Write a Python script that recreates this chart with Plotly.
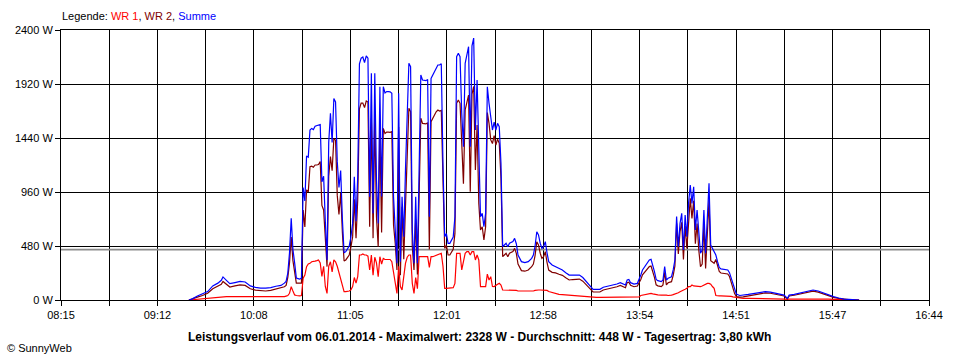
import plotly.graph_objects as go
from datetime import datetime

# ---------------- data ----------------
times = ["09:30","09:32","09:35","09:38","09:41","09:44","09:47","09:49","09:50","09:52",
         "09:54","09:57","10:00","10:03","10:06","10:09","10:12","10:15","10:18","10:21",
         "10:24","10:26","10:27","10:28","10:29","10:30","10:31","10:32","10:33","10:34",
         "10:35","10:36","10:37","10:38","10:39","10:40","10:41","10:42","10:43","10:44",
         "10:45","10:46","10:47","10:48","10:49","10:50","10:51","10:52","10:53","10:54",
         "10:55","10:56","10:57","10:58","10:59","11:00","11:01","11:02","11:03","11:04",
         "11:05","11:06","11:07","11:08","11:09","11:10","11:11","11:12","11:13","11:14",
         "11:15","11:16","11:17","11:18","11:19","11:20","11:21","11:22","11:23","11:24",
         "11:25","11:26","11:27","11:28","11:29","11:30","11:31","11:32","11:33","11:34",
         "11:35","11:36","11:37","11:38","11:39","11:40","11:41","11:42","11:43","11:44",
         "11:45","11:46","11:47","11:48","11:49","11:50","11:51","11:52","11:53","11:54",
         "11:55","11:56","11:57","11:58","11:59","12:00","12:01","12:02","12:03","12:04",
         "12:05","12:06","12:07","12:08","12:09","12:10","12:11","12:12","12:13","12:14",
         "12:15","12:16","12:17","12:18","12:19","12:20","12:21","12:22","12:23","12:24",
         "12:25","12:26","12:27","12:28","12:29","12:30","12:31","12:32","12:33","12:34",
         "12:35","12:36","12:37","12:38","12:40","12:41","12:42","12:43","12:45","12:47",
         "12:49","12:51","12:52","12:53","12:54","12:55","12:56","12:57","12:58","12:59",
         "13:00","13:01","13:03","13:05","13:07","13:09","13:11","13:13","13:15","13:17",
         "13:19","13:21","13:23","13:25","13:27","13:29","13:31","13:33","13:35","13:37",
         "13:39","13:41","13:43","13:45","13:46","13:47","13:48","13:49","13:51","13:53",
         "13:54","13:55","13:56","13:57","13:59","14:00","14:01","14:02","14:03","14:04",
         "14:05","14:07","14:08","14:09","14:10","14:11","14:12","14:13","14:14","14:15",
         "14:16","14:17","14:18","14:19","14:20","14:21","14:22","14:23","14:24","14:25",
         "14:26","14:27","14:28","14:29","14:30","14:31","14:32","14:33","14:34","14:35",
         "14:36","14:37","14:38","14:39","14:40","14:41","14:42","14:44","14:46","14:47",
         "14:48","14:49","14:50","14:51","14:53","14:55","14:58","15:00","15:03","15:05",
         "15:08","15:11","15:14","15:17","15:19","15:21","15:22","15:25","15:28","15:31",
         "15:34","15:36","15:39","15:42","15:45","15:48","15:51","15:54","15:57","16:00",
         "16:03"]

wr1 = [0,3,8,12,15,18,25,30,30,30,
       30,30,30,28,25,25,25,25,25,28,
       28,30,35,40,60,118,80,45,40,36,
       36,40,193,222,296,320,326,340,340,345,
       350,356,330,210,300,120,59,300,340,250,
       356,340,300,240,200,120,74,74,74,80,
       90,120,200,150,207,400,400,410,400,400,
       390,267,400,220,380,330,207,385,320,370,
       360,360,360,360,340,250,120,59,300,120,
       90,200,326,380,400,400,148,59,200,100,
       385,385,385,385,385,385,290,385,385,390,
       395,400,409,415,300,104,104,104,104,104,
       110,148,415,415,415,267,330,415,430,430,
       400,430,430,356,400,356,119,119,119,119,
       230,178,207,120,119,133,140,148,133,89,
       89,89,89,89,89,89,85,80,80,76,
       74,74,80,85,89,89,89,89,89,89,
       85,75,65,55,50,48,45,44,40,38,
       36,33,30,26,24,24,24,24,24,24,
       24,24,24,24,24,24,24,24,24,24,
       28,40,44,48,55,59,59,55,50,48,
       46,44,44,50,44,40,40,44,48,52,
       60,65,74,80,84,96,104,119,119,133,
       125,122,120,118,119,124,133,135,148,148,
       140,120,104,40,36,36,36,36,36,34,
       32,28,26,22,15,15,14,14,13,12,
       11,10,9,8,8,5,8,8,9,10,
       10,11,10,9,8,6,4,2,1,1,
       0]

wr2 = [0,8,25,40,60,100,120,140,165,140,
       115,125,135,130,100,88,82,80,85,95,
       105,118,130,200,330,560,350,260,150,150,
       148,150,800,650,980,960,1185,1190,1180,1200,
       1200,1204,1230,840,800,580,297,1100,1274,1150,
       1434,1420,930,760,950,600,346,356,376,400,
       470,561,896,550,889,1700,1750,1750,1710,1769,
       1760,651,1615,550,1635,737,474,1511,600,1526,
       1480,1492,1492,1490,1497,668,502,267,1537,220,
       828,363,830,1279,1704,1674,474,267,718,226,
       830,1615,1570,1570,1565,1575,450,1585,1615,1640,
       1673,1689,1680,1685,900,459,486,400,400,426,
       450,592,1748,1778,1748,1392,1033,1689,1763,1822,
       963,1830,1898,1155,1556,859,622,651,533,651,
       1666,1570,1423,1391,1461,1378,1430,1393,1082,385,
       400,415,385,415,430,459,415,320,261,256,
       267,296,320,395,518,489,416,370,385,430,
       335,266,246,241,229,219,198,178,182,184,
       186,167,133,98,71,71,71,89,95,100,
       109,118,130,118,109,154,159,130,118,124,
       150,182,223,242,271,297,302,256,202,135,
       126,119,134,246,134,153,160,163,219,303,
       681,409,607,690,360,660,459,740,903,726,
       882,500,680,445,296,320,667,280,622,889,
       349,339,326,360,305,254,240,236,231,209,
       161,105,57,31,25,27,36,41,49,58,
       63,60,53,42,36,10,36,42,51,64,
       70,78,70,53,37,24,14,6,4,2,
       0]

summe = [0,10,35,55,75,125,150,175,205,175,
         145,155,165,160,125,112,105,105,110,122,
         130,150,165,240,420,726,450,330,195,190,
         185,195,1000,880,1280,1270,1510,1525,1515,1545,
         1550,1560,1560,1050,1100,700,356,1400,1660,1400,
         1790,1760,1230,1000,1150,720,420,430,450,480,
         560,681,1096,700,1096,2100,2150,2160,2110,2169,
         2150,918,2015,770,2015,1067,681,1896,920,1896,
         1840,1852,1852,1850,1837,918,622,326,1837,340,
         918,563,1156,1659,2104,2074,622,326,918,326,
         1215,2000,1955,1955,1950,1960,740,1970,2000,2030,
         2068,2089,2089,2100,1200,563,590,504,504,530,
         560,740,2163,2193,2163,1659,1363,2104,2193,2252,
         1363,2260,2328,1511,1956,1215,741,770,652,770,
         1896,1748,1630,1511,1580,1511,1570,1541,1215,474,
         489,504,474,504,519,548,500,400,341,332,
         341,370,400,480,607,578,505,459,474,519,
         420,341,311,296,279,267,243,222,222,222,
         222,200,163,124,95,95,95,113,119,124,
         133,142,154,142,133,178,183,154,142,148,
         178,222,267,290,326,356,361,311,252,183,
         172,163,178,296,178,193,200,207,267,355,
         741,474,681,770,444,756,563,859,1022,859,
         1007,622,800,563,415,444,800,415,770,1037,
         489,459,430,400,341,290,276,272,267,243,
         193,133,83,53,40,42,50,55,62,70,
         74,70,62,50,44,15,44,50,60,74,
         80,89,80,62,45,30,18,8,5,3,
         0]

average_w = 448
y_tick_values = [0, 480, 960, 1440, 1920, 2400]
y_tick_labels = ["0 W", "480 W", "960 W", "1440 W", "1920 W", "2400 W"]
x_tick_labels = ["08:15", "09:12", "10:08", "11:05", "12:01", "12:58", "13:54", "14:51", "15:47", "16:44"]
axis_start = "08:15"
axis_end = "16:44"
day = "2014-01-06"

legend_label = "Legende: "
series_names = ["WR 1", "WR 2", "Summe"]
series_colors = ["#FF0000", "#800000", "#0000FF"]
title_text = ("Leistungsverlauf vom 06.01.2014 - Maximalwert: 2328 W - Durchschnitt: 448 W"
              " - Tagesertrag: 3,80 kWh")
credit_text = "© SunnyWeb"

# ---------------- figure ----------------
def to_dt(t):
    return datetime.strptime(day + " " + t, "%Y-%m-%d %H:%M")

x = [to_dt(t) for t in times]
start, end = to_dt(axis_start), to_dt(axis_end)
n_div = 2 * (len(x_tick_labels) - 1)
tickvals = [start + (end - start) * i / n_div for i in range(n_div + 1)]
ticktext = [x_tick_labels[i // 2] if i % 2 == 0 else "" for i in range(n_div + 1)]

FONT = "Liberation Sans, Arial, sans-serif"

fig = go.Figure()
# average line
fig.add_trace(go.Scatter(x=[start, end], y=[average_w, average_w], mode="lines",
                         line=dict(color="#8C8C8C", width=1.6), hoverinfo="skip", showlegend=False))
for vals, name, col in zip([wr1, wr2, summe], series_names, series_colors):
    fig.add_trace(go.Scatter(x=x, y=vals, mode="lines", name=name,
                             line=dict(color=col, width=1.2), showlegend=False))

fig.update_layout(
    width=960, height=360,
    margin=dict(l=61, r=31, t=30, b=60),
    paper_bgcolor="white", plot_bgcolor="white",
    font=dict(family=FONT, size=11, color="black"),
    showlegend=False,
)
fig.update_xaxes(
    type="date", range=[start, end],
    tickmode="array", tickvals=tickvals, ticktext=ticktext,
    showgrid=True, gridcolor="black", gridwidth=1,
    ticks="outside", ticklen=5, tickcolor="black", tickwidth=1,
    showline=True, linecolor="black", linewidth=1, mirror=True,
    zeroline=False, tickfont=dict(family=FONT, size=11, color="black"),
)
fig.update_yaxes(
    range=[0, 2400], tickmode="array", tickvals=y_tick_values, ticktext=y_tick_labels,
    showgrid=True, gridcolor="black", gridwidth=1,
    ticks="outside", ticklen=5, tickcolor="black", tickwidth=1,
    showline=True, linecolor="black", linewidth=1, mirror=True,
    zeroline=False, tickfont=dict(family=FONT, size=11, color="black"),
)

legend_html = legend_label + ", ".join(
    f"<span style='color:{c}'>{n}</span>" for n, c in zip(series_names, series_colors))
fig.add_annotation(text=legend_html, xref="paper", yref="paper",
                   x=-0.001, y=1.052, xanchor="left", yanchor="middle",
                   showarrow=False, font=dict(family=FONT, size=11, color="black"))
fig.add_annotation(text="<b>" + title_text + "</b>", xref="paper", yref="paper",
                   x=0.4821, y=-0.137, xanchor="center", yanchor="middle",
                   showarrow=False, font=dict(family=FONT, size=12, color="black"))
fig.add_annotation(text=credit_text, xref="paper", yref="paper",
                   x=-0.0645, y=-0.178, xanchor="left", yanchor="middle",
                   showarrow=False, font=dict(family=FONT, size=11, color="black"))

fig.write_html("out.html", config={"displayModeBar": False},
               post_script="document.body.style.margin='0px';document.body.style.overflow='hidden';")
